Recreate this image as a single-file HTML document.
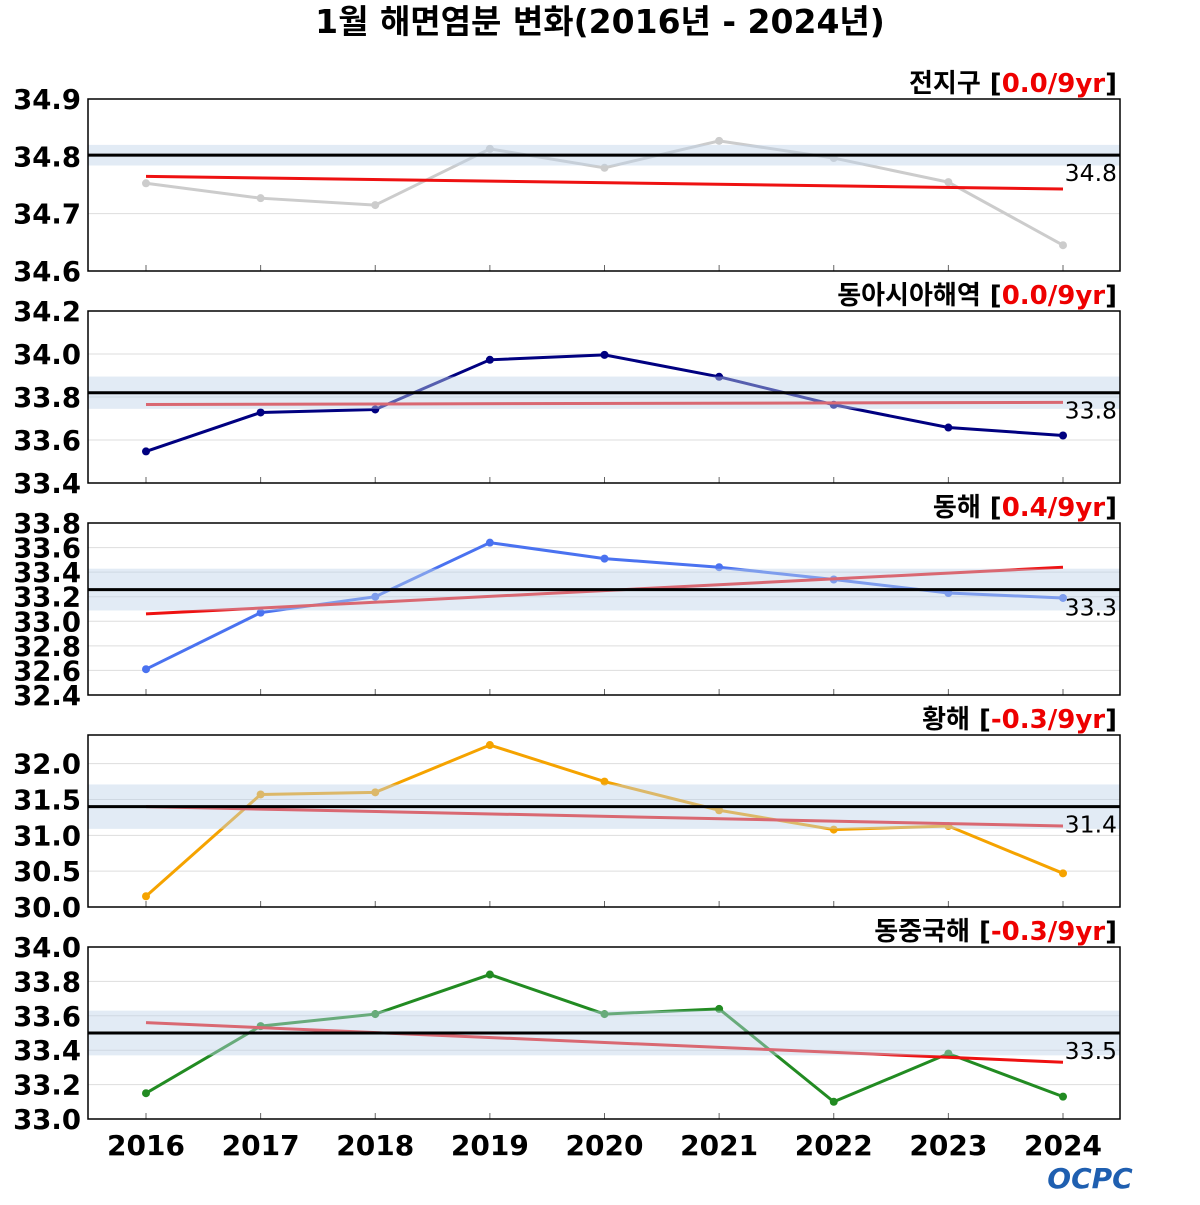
<!DOCTYPE html>
<html><head><meta charset="utf-8"><style>
body{margin:0;background:#fff;width:1200px;height:1200px;overflow:hidden}
text{font-family:"DejaVu Sans","Noto Sans CJK KR",sans-serif}
</style></head><body>
<svg id="chart" width="1200" height="1200" xmlns="http://www.w3.org/2000/svg">
<text x="600" y="33" text-anchor="middle" font-size="33" font-weight="bold">1월 해면염분 변화(2016년 - 2024년)</text>
<text x="1090" y="1188" text-anchor="middle" font-size="28" font-weight="bold" fill="#1f5fb0" font-style="italic">OCPC</text>
</svg>
<script>
const years=[2016,2017,2018,2019,2020,2021,2022,2023,2024];
const names=["전지구","동아시아해역","동해","황해","동중국해"];
const rates=["0.0","0.0","0.4","-0.3","-0.3"];
const s1=[34.753,34.727,34.715,34.813,34.78,34.827,34.797,34.755,34.645];
const s2=[33.547,33.728,33.742,33.973,33.996,33.894,33.764,33.658,33.621];
const s3=[32.61,33.07,33.20,33.64,33.51,33.44,33.34,33.23,33.19];
const s4=[30.15,31.57,31.60,32.26,31.75,31.35,31.08,31.13,30.47];
const s5=[33.15,33.54,33.61,33.84,33.61,33.64,33.10,33.38,33.13];
const means=[34.802,33.82,33.258,31.40,33.50];
const bands=[0.018,0.075,0.17,0.31,0.13];
const trendStart=[34.765,33.765,33.06,31.40,33.56];
const trendEnd=[34.743,33.775,33.44,31.13,33.33];
const yMin=[34.6,33.4,32.4,30.0,33.0];
const yMax=[34.9,34.2,33.8,32.4,34.0];
const ticks1=[34.6,34.7,34.8,34.9];
const ticks2=[33.4,33.6,33.8,34.0,34.2];
const ticks3=[32.4,32.6,32.8,33.0,33.2,33.4,33.6,33.8];
const ticks4=[30.0,30.5,31.0,31.5,32.0];
const ticks5=[33.0,33.2,33.4,33.6,33.8,34.0];
const series=[s1,s2,s3,s4,s5];
const tickSets=[ticks1,ticks2,ticks3,ticks4,ticks5];
const colors=["#cccccc","#000080","#4a72f0","#f5a300","#228b22"];
const tops=[99,311,523,735,947];
const H=172,L=88,R=1120;
const svg=document.getElementById('chart');
const NS="http://www.w3.org/2000/svg";
function mk(tag,attrs,parent){const e=document.createElementNS(NS,tag);for(const k in attrs)e.setAttribute(k,attrs[k]);(parent||svg).appendChild(e);return e;}
const xs=i=>146+(1063-146)*i/(years.length-1);
for(let p=0;p<5;p++){
 const top=tops[p];
 const ys=v=>top+H-(v-yMin[p])/(yMax[p]-yMin[p])*H;
 const g=mk('g',{});
 
 
 tickSets[p].forEach(t=>{
  const gl=mk('line',{x1:L,x2:R,y1:ys(t),y2:ys(t),stroke:'#dddddd','stroke-width':1},g);
  
  
  const tl=mk('text',{x:81,y:ys(t)+10,'text-anchor':'end','font-size':27.5,'font-weight':'bold'},g);
  tl.textContent=t.toFixed(1);
  
  
 });
 years.forEach((y,i)=>{mk('line',{x1:xs(i),x2:xs(i),y1:top+H,y2:top+H-6,stroke:'#666','stroke-width':1},g);});
 const d=series[p].map((v,i)=>(i?'L':'M')+xs(i)+','+ys(v)).join('');
 const ln=mk('path',{d:d,fill:'none',stroke:colors[p],'stroke-width':3},g);
 
 
 series[p].forEach((v,i)=>{const c=mk('circle',{cx:xs(i),cy:ys(v),r:4,fill:colors[p]},g);
  
  });
 const tr=mk('line',{x1:xs(0),y1:ys(trendStart[p]),x2:xs(8),y2:ys(trendEnd[p]),stroke:'#ee1111','stroke-width':3},g);
 
 
 const b=mk('rect',{x:L,width:R-L,y:ys(means[p]+bands[p]),height:ys(means[p]-bands[p])-ys(means[p]+bands[p]),fill:'rgba(190,210,232,0.45)'},g);
 
 
 const ml=mk('line',{x1:L,x2:R,y1:ys(means[p]),y2:ys(means[p]),stroke:'#000','stroke-width':3},g);
 
 
 const mt=mk('text',{x:1117,y:ys(means[p])+26,'text-anchor':'end','font-size':23.5},g);
 mt.textContent=means[p].toFixed(1);
 
 
 mk('rect',{x:L,y:top,width:R-L,height:H,fill:'none',stroke:'#000','stroke-width':1.5},g);
 const tt=mk('text',{x:1117,y:top-7,'text-anchor':'end','font-size':26,'font-weight':'bold'},g);
 tt.innerHTML=names[p]+' [<tspan fill="#ee0000">'+rates[p]+'/9yr</tspan>]';
 
 
}
years.forEach((y,i)=>{const t=mk('text',{x:xs(i),y:1155,'text-anchor':'middle','font-size':28,'font-weight':'bold'});
 t.textContent=y;
 
 });
</script>
</body></html>
